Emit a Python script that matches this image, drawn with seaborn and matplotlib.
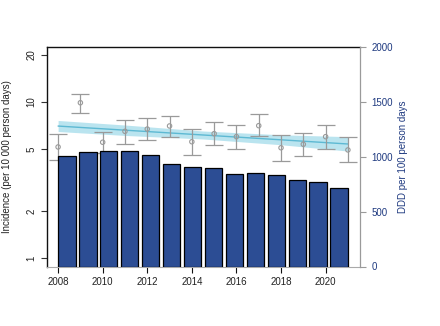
import numpy as np
import pandas as pd
import seaborn as sns
import matplotlib
matplotlib.use("Agg")
import matplotlib.pyplot as plt
from matplotlib.ticker import FixedLocator, NullLocator, FixedFormatter

sns.set_style("white")
plt.rcParams['font.family'] = ['Liberation Sans', 'DejaVu Sans']

# ---- data ----
years = [2008, 2009, 2010, 2011, 2012, 2013, 2014, 2015, 2016, 2017, 2018, 2019, 2020, 2021]
incidence = [5.14, 9.85, 5.51, 6.47, 6.69, 7.00, 5.55, 6.25, 5.98, 7.03, 5.08, 5.35, 5.98, 4.92]
ci_low = [4.27, 8.43, 4.72, 5.35, 5.69, 5.93, 4.57, 5.27, 4.99, 6.07, 4.16, 4.50, 4.99, 4.10]
ci_high = [6.19, 11.2, 6.43, 7.61, 7.83, 8.14, 6.66, 7.39, 7.07, 8.31, 6.13, 6.34, 7.13, 5.98]
ddd = [1004, 1043, 1055, 1052, 1016, 937, 904, 895, 840, 855, 831, 788, 767, 715]

trend_years = [2008, 2011, 2014.5, 2018, 2021]
trend_fit = [6.99, 6.58, 6.13, 5.71, 5.37]
trend_low = [6.45, 6.09, 5.78, 5.31, 4.84]
trend_high = [7.59, 7.10, 6.50, 6.15, 5.98]

left_ticks = [1, 2, 5, 10, 20]
right_ticks = [0, 500, 1000, 1500, 2000]
year_ticks = [2008, 2010, 2012, 2014, 2016, 2018, 2020]

navy = "#1F3A80"
bar_color = "#2C4D94"
gray = "#9a9a9a"

fig = plt.figure(figsize=(4.4, 3.26), dpi=100)
rect = [46.5 / 440, 1 - 266.5 / 326, (359.5 - 46.5) / 440, (266.5 - 47) / 326]

# ---- incidence axes (log) ----
ax = fig.add_axes(rect)
ax.set_facecolor("white")
ax.set_yscale("log")
ax.fill_between(trend_years, trend_low, trend_high, color="#B3E2EE", alpha=0.9, linewidth=0, zorder=1)
sns.lineplot(x=trend_years, y=trend_fit, ax=ax, color="#5DB9D3", linewidth=1.0, zorder=2)
ax.errorbar(years, incidence,
            yerr=[np.array(incidence) - np.array(ci_low), np.array(ci_high) - np.array(incidence)],
            fmt="none", ecolor=gray, elinewidth=0.9, capsize=6.5, capthick=0.9, zorder=3)
sns.scatterplot(x=years, y=incidence, ax=ax, marker="o", s=10, facecolors="none",
                edgecolor=gray, linewidth=0.8, zorder=4)
ax.set_xlim(2007.48, 2021.52)
ax.set_ylim(0.886, 22.36)
ax.yaxis.set_major_locator(FixedLocator(left_ticks))
ax.yaxis.set_major_formatter(FixedFormatter([str(t) for t in left_ticks]))
ax.yaxis.set_minor_locator(NullLocator())
ax.set_xticks(year_ticks)
ax.set_xticklabels([str(y) for y in year_ticks])
ax.tick_params(axis="y", direction="out", length=4.5, width=0.8, color="#333333",
               labelsize=7, labelcolor="#222222", pad=3, left=True)
ax.tick_params(axis="x", direction="out", length=4.5, width=0.8, color="#111111",
               labelsize=7, labelcolor="#222222", pad=3, bottom=True)
for lbl in ax.get_yticklabels():
    lbl.set_rotation(90)
    lbl.set_va("center")
ax.set_ylabel("Incidence (per 10 000 person days)", fontsize=7, color="#222222", labelpad=10)
for s in ["left", "top"]:
    ax.spines[s].set_color("#111111")
    ax.spines[s].set_linewidth(1.0)
ax.spines["right"].set_visible(False)
ax.spines["bottom"].set_color("#aaaaaa")
ax.spines["bottom"].set_linewidth(0.8)

# ---- DDD bars axes on top ----
axb = fig.add_axes(rect)
axb.patch.set_visible(False)
df = pd.DataFrame({"year": [str(y) for y in years], "ddd": ddd})
sns.barplot(data=df, x="year", y="ddd", ax=axb, color=bar_color, saturation=1,
            width=0.833, edgecolor="black", linewidth=0.9)
axb.set_xlim(-0.972, 13.972)
axb.set_ylim(0, 2000)
axb.set_xticks([])
axb.set_xlabel("")
axb.yaxis.tick_right()
axb.yaxis.set_label_position("right")
axb.set_yticks(right_ticks)
axb.set_yticklabels([str(t) for t in right_ticks])
axb.tick_params(axis="y", direction="out", length=4.5, width=0.8, color=gray,
                labelsize=7, labelcolor=navy, pad=4, right=True, left=False)
axb.set_ylabel("DDD per 100 person days", fontsize=7, color=navy, labelpad=4, rotation=90)
for s in ["left", "top", "bottom"]:
    axb.spines[s].set_visible(False)
axb.spines["right"].set_color(gray)
axb.spines["right"].set_linewidth(0.9)

fig.savefig("out.png", dpi=100)
